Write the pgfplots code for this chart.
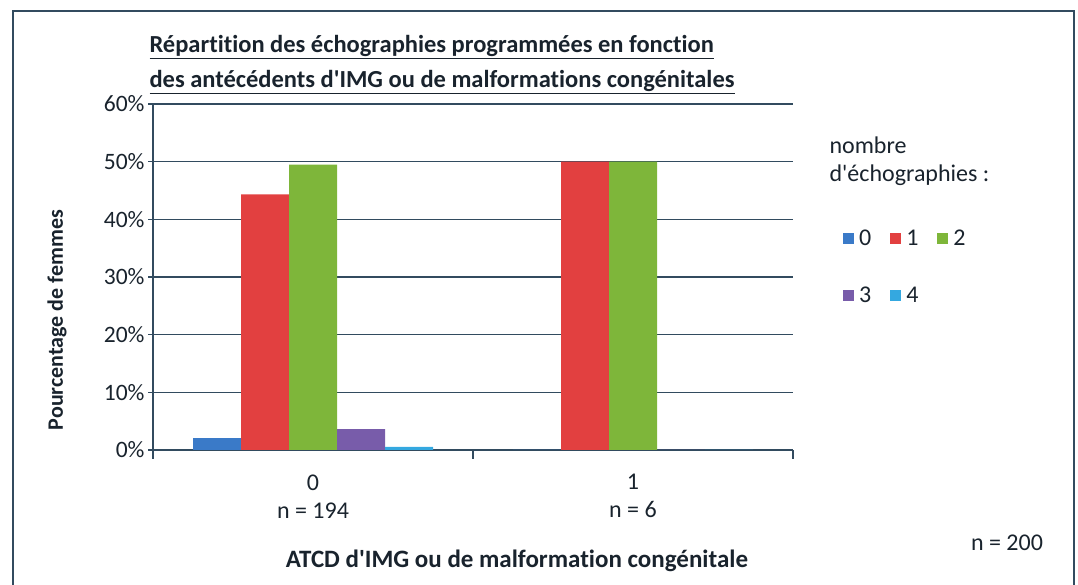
\documentclass[border=0pt]{standalone}
\usepackage{fontspec}
\setmainfont{Carlito}[Ligatures={TeXOff,NoCommon}]
\usepackage{pgfplots}
\pgfplotsset{compat=1.18}
\definecolor{c0}{RGB}{58,122,200}
\definecolor{c1}{RGB}{226,64,64}
\definecolor{c2}{RGB}{126,182,58}
\definecolor{c3}{RGB}{120,92,170}
\definecolor{c4}{RGB}{52,168,224}
\definecolor{gridc}{RGB}{50,75,95}
\definecolor{txt}{RGB}{25,35,45}
\pgfplotsset{sqlegend/.style={legend image code/.code={\fill[##1] (0pt,-5.5pt) rectangle (11pt,5.5pt);}}}
\begin{document}
\begin{tikzpicture}
\useasboundingbox (0pt,0pt) rectangle (1078pt,585pt);
\draw[gridc, line width=1.5pt] (13pt,0pt) -- (13pt,574pt) -- (1074pt,574pt) -- (1074pt,0pt);
\begin{axis}[
  at={(153pt,135pt)}, anchor=south west,
  scale only axis, width=640pt, height=346pt,
  xmin=-0.5, xmax=1.5, ymin=0, ymax=60,
  ybar=0pt, bar width=48pt,
  axis x line*=bottom, axis y line*=left,
  axis line style={gridc, line width=1.2pt},
  xtick={0,1},
  xticklabels={{0\\n = 194},{1\\n = 6}},
  minor xtick={-0.5,0.5,1.5},
  major x tick style={draw=none},
  minor x tick style={gridc, line width=1.2pt},
  minor tick length=9pt,
  ytick={0,10,...,60},
  major y tick style={gridc, line width=1.2pt},
  major tick length=5pt,
  tick align=outside,
  ymajorgrids,
  grid style={gridc, line width=1.2pt},
  yticklabel={\pgfmathprintnumber{\tick}\%},
  /pgf/number format/assume math mode=true,
  y tick label style={font=\fontsize{23.5}{27}\selectfont, text=txt},
  x tick label style={font=\fontsize{24}{28}\selectfont, text=txt, align=center, yshift=-16pt},
  legend columns=3,
  legend style={draw=none, fill=none, at={(1.078,0.53)}, anchor=west, inner sep=0pt,
    font=\fontsize{24}{28}\selectfont, text=txt,
    /tikz/every odd column/.append style={column sep=3pt},
    /tikz/every even column/.append style={column sep=17pt}, row sep=36pt},
]
\addplot[fill=c0, draw=none, sqlegend] coordinates {(0,2.06) (1,0)};
\addplot[fill=c1, draw=none, sqlegend] coordinates {(0,44.33) (1,50)};
\addplot[fill=c2, draw=none, sqlegend] coordinates {(0,49.48) (1,50)};
\addplot[fill=c3, draw=none, sqlegend] coordinates {(0,3.61) (1,0)};
\addplot[fill=c4, draw=none, sqlegend] coordinates {(0,0.52) (1,0)};
\legend{0,1,2,3,4}
\end{axis}
\node[anchor=west, font=\bfseries\fontsize{24.5}{28}\selectfont, text=txt] at (146pt,538pt) {\underline{Répartition des échographies programmées en fonction}};
\node[anchor=west, font=\bfseries\fontsize{24.5}{28}\selectfont, text=txt] at (146pt,503pt) {\underline{des antécédents d'IMG ou de malformations congénitales}};
\node[rotate=90, font=\bfseries\fontsize{22}{26}\selectfont, text=txt] at (57pt,265pt) {Pourcentage de femmes};
\node[font=\bfseries\fontsize{25}{29}\selectfont, text=txt] at (517pt,24pt) {ATCD d'IMG ou de malformation congénitale};
\node[anchor=west, font=\fontsize{24}{28}\selectfont, text=txt] at (826pt,440pt) {nombre};
\node[anchor=west, font=\fontsize{24}{28}\selectfont, text=txt] at (826pt,410pt) {d'échographies :};
\node[font=\fontsize{24}{28}\selectfont, text=txt] at (1007pt,42pt) {n = 200};
\end{tikzpicture}
\end{document}
